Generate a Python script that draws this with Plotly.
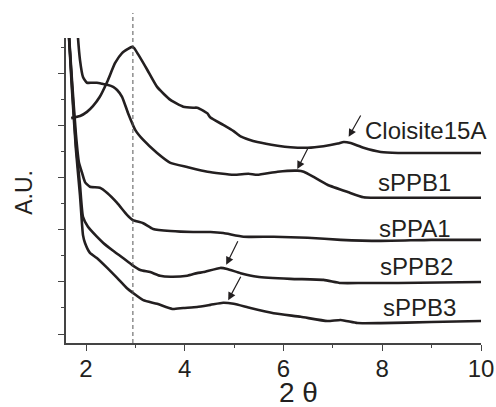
import plotly.graph_objects as go

# ---- data (2-theta vs arbitrary units, offset curves) ----
cloisite_x = [1.70, 1.88, 2.02, 2.14, 2.28, 2.43, 2.59, 2.73, 2.85, 2.93, 2.97, 3.06, 3.24, 3.44,
              3.71, 3.97, 4.17, 4.25, 4.38, 4.46, 4.52, 4.78, 4.99, 5.13, 5.29, 5.47, 5.88, 6.14,
              6.49, 6.81, 7.10, 7.22, 7.36, 7.62, 7.97, 8.32, 8.99, 10.0]
cloisite_y = [4.15, 4.19, 4.27, 4.38, 4.56, 4.85, 5.21, 5.40, 5.48, 5.52, 5.50, 5.37, 5.08, 4.75,
              4.50, 4.37, 4.35, 4.35, 4.29, 4.24, 4.16, 4.02, 3.90, 3.80, 3.74, 3.69, 3.62, 3.59,
              3.58, 3.61, 3.66, 3.69, 3.67, 3.58, 3.50, 3.48, 3.48, 3.48]

sppb1_x = [1.817, 1.838, 1.878, 1.939, 2.02, 2.12, 2.22, 2.33, 2.43, 2.55, 2.63, 2.73, 2.85, 3.00,
           3.16, 3.44, 3.71, 4.05, 4.46, 4.99, 5.29, 5.47, 5.88, 6.28, 6.41, 6.61, 6.89, 7.30,
           7.62, 8.32, 10.0]
sppb1_y = [6.04, 5.69, 5.27, 4.94, 4.83, 4.83, 4.83, 4.81, 4.79, 4.75, 4.69, 4.56, 4.25, 3.92,
           3.73, 3.48, 3.29, 3.21, 3.12, 3.06, 3.08, 3.06, 3.12, 3.14, 3.12, 3.02, 2.87, 2.73,
           2.63, 2.62, 2.62]

sppa1_x = [1.635, 1.716, 1.797, 1.858, 1.919, 1.98, 2.08, 2.28, 2.43, 2.63, 2.83, 2.95, 3.16,
           3.36, 3.71, 4.17, 4.52, 4.78, 5.19, 5.80, 6.49, 7.16, 7.97, 8.99, 10.0]
sppa1_y = [6.04, 4.88, 3.83, 3.29, 3.10, 2.92, 2.83, 2.81, 2.71, 2.52, 2.29, 2.19, 2.13,
           2.02, 1.98, 1.96, 1.96, 1.94, 1.87, 1.87, 1.85, 1.81, 1.79, 1.81, 1.81]

sppb2_x = [1.635, 1.716, 1.797, 1.878, 1.939, 2.04, 2.22, 2.35, 2.55, 2.75, 2.93, 3.10, 3.30,
           3.50, 3.71, 4.05, 4.25, 4.38, 4.72, 4.86, 5.13, 5.47, 6.14, 6.81, 7.16, 7.62, 8.32, 10.0]
sppb2_y = [6.04, 4.79, 3.63, 2.87, 2.25, 2.06, 1.87, 1.75, 1.60, 1.46, 1.33, 1.23, 1.19,
           1.12, 1.10, 1.12, 1.17, 1.19, 1.27, 1.25, 1.17, 1.10, 1.06, 1.04, 0.98, 0.98, 0.98, 1.00]

sppb3_x = [1.635, 1.716, 1.797, 1.878, 1.939, 1.98, 2.08, 2.22, 2.43, 2.63, 2.83, 2.95, 3.16,
           3.44, 3.75, 3.97, 4.25, 4.52, 4.78, 4.99, 5.33, 5.80, 6.35, 6.89, 7.16, 7.50, 7.97,
           8.99, 10.0]
sppb3_y = [6.04, 4.69, 3.54, 2.67, 1.90, 1.75, 1.56, 1.46, 1.27, 1.08, 0.88, 0.79, 0.65,
           0.58, 0.48, 0.50, 0.52, 0.56, 0.60, 0.58, 0.50, 0.40, 0.33, 0.25, 0.27, 0.21, 0.21,
           0.23, 0.25]

labels = ["Cloisite15A", "sPPB1", "sPPA1", "sPPB2", "sPPB3"]
label_x = [8.88, 8.66, 8.66, 8.70, 8.76]
label_y = [3.91, 2.91, 2.03, 1.29, 0.51]

# arrows: tip (x, y) and tail (x, y)
arrow_tip_x = [7.32, 6.28, 4.84, 4.88]
arrow_tip_y = [3.79, 3.17, 1.33, 0.65]
arrow_tail_x = [7.58, 6.51, 5.09, 5.15]
arrow_tail_y = [4.23, 3.60, 1.81, 1.13]

dashed_x = 2.95
x_ticks = [2, 4, 6, 8, 10]

LINE = "#231f20"
AXIS = "#444444"
FONT = "Liberation Sans, Arial, sans-serif"

fig = go.Figure()
for xs, ys in [(cloisite_x, cloisite_y), (sppb1_x, sppb1_y), (sppa1_x, sppa1_y),
               (sppb2_x, sppb2_y), (sppb3_x, sppb3_y)]:
    fig.add_trace(go.Scatter(x=xs, y=ys, mode="lines",
                             line=dict(color=LINE, width=2.6, shape="spline", smoothing=0.5),
                             showlegend=False, hoverinfo="skip"))

for t, lx, ly in zip(labels, label_x, label_y):
    fig.add_annotation(x=lx, y=ly, xref="x", yref="y", text=t, showarrow=False,
                       font=dict(family=FONT, size=24, color=LINE),
                       xanchor="center", yanchor="middle")

for tx, ty, ax, ay in zip(arrow_tip_x, arrow_tip_y, arrow_tail_x, arrow_tail_y):
    fig.add_annotation(x=tx, y=ty, ax=ax, ay=ay, xref="x", yref="y", axref="x", ayref="y",
                       text="", showarrow=True, arrowhead=2, arrowsize=1.3,
                       arrowwidth=1.2, arrowcolor=LINE, standoff=0)

fig.add_shape(type="line", xref="x", yref="paper", x0=dashed_x, x1=dashed_x,
              y0=0, y1=1.082, line=dict(color="#555555", width=1, dash="4px,3px"))

fig.add_annotation(xref="paper", yref="paper", x=0.561, y=-0.163, text="2 θ",
                   showarrow=False, font=dict(family=FONT, size=28, color=LINE),
                   xanchor="center", yanchor="middle")
fig.add_annotation(xref="paper", yref="paper", x=-0.101, y=0.493, text="A.U.",
                   showarrow=False, textangle=-90,
                   font=dict(family=FONT, size=23, color=LINE),
                   xanchor="center", yanchor="middle")

fig.update_xaxes(range=[1.595, 10.0], showgrid=False, zeroline=False, automargin=False,
                 showline=True, linecolor=AXIS, linewidth=1.5,
                 ticks="outside", ticklen=6, tickwidth=1.2, tickcolor=AXIS,
                 tickvals=x_ticks, ticktext=[str(v) for v in x_ticks],
                 ticklabelstandoff=-3,
                 tickfont=dict(family=FONT, size=24, color=LINE),
                 minor=dict(ticks="outside", ticklen=3, tickwidth=1.2,
                            tickcolor=AXIS, dtick=1, tick0=1))
fig.update_yaxes(range=[-0.173, 5.69], showgrid=False, zeroline=False, automargin=False,
                 showline=True, linecolor=AXIS, linewidth=1.5,
                 ticks="outside", ticklen=6, tickwidth=1.2, tickcolor=AXIS,
                 dtick=1, tick0=0, showticklabels=False,
                 minor=dict(ticks="outside", ticklen=3, tickwidth=1.2,
                            tickcolor=AXIS, dtick=0.5, tick0=0))

fig.update_layout(width=496, height=407, margin=dict(l=66, r=15, t=38, b=64),
                  plot_bgcolor="white", paper_bgcolor="white")

fig.write_html("out.html")
